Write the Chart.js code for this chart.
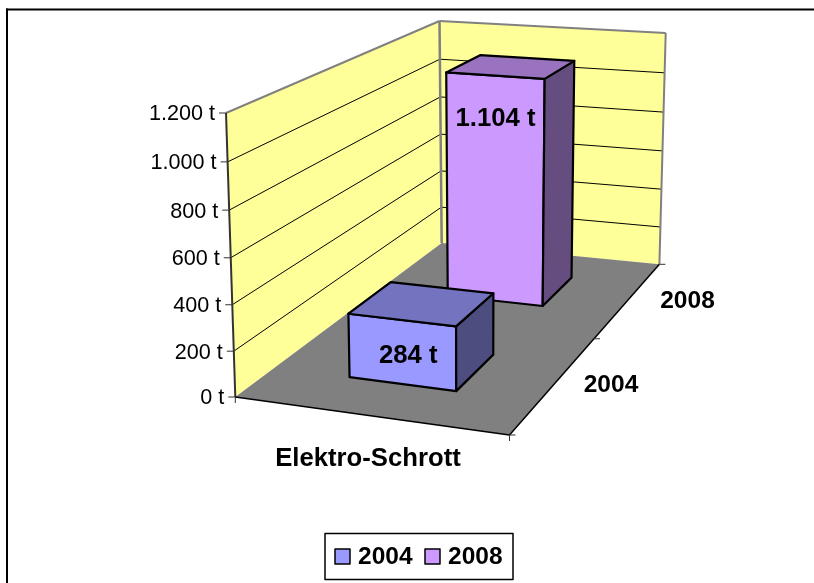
<!DOCTYPE html>
<html>
<head>
<meta charset="utf-8">
<title>Elektro-Schrott</title>
<script src="https://cdn.jsdelivr.net/npm/chart.js@4"></script>
<style>
  html, body { margin: 0; padding: 0; background: #fff; }
  canvas { display: block; }
</style>
</head>
<body>
<canvas id="chart" width="814" height="583"></canvas>
<script>
// Data
const categories = ['Elektro-Schrott'];
const seriesNames = ['2004', '2008'];
const values2004 = [284];
const values2008 = [1104];
const yTickLabels = ['0 t', '200 t', '400 t', '600 t', '800 t', '1.000 t', '1.200 t'];
const barLabels = ['284 t', '1.104 t'];

const FONT = '"Liberation Sans", Arial, sans-serif';
const wallColor = '#FFFF99';
const floorColor = '#808080';
const frontColors = ['#9999FF', '#CC99FF'];
const topColors = ['#7373BF', '#9973BF'];
const sideColors = ['#4D4D80', '#664D80'];

// corners of the 3d box on screen: box[u][depth][height]
const box = [
  [[{ x: 235.3, y: 397 }, { x: 226, y: 113 }], [{ x: 441.7, y: 243 }, { x: 439.5, y: 21 }]],
  [[{ x: 509.5, y: 435 }, { x: 511.5, y: 136 }], [{ x: 659.4, y: 264.3 }, { x: 665.7, y: 33 }]]
];
const topWeight = 0.962; // vertical perspective, top of the box is nearer
const seriesDepth = [[0.157, 0.354], [0.653, 0.85]];
const uShift = -0.0045;
const labelOffsets = [{ x: 6, y: 35.5 }, { x: 0, y: 43 }];

// perspective correct mapping of box coordinates to the screen
function project(u, d, h) {
  let sx = 0, sy = 0, sw = 0;
  [0, 1].forEach(i => [0, 1].forEach(j => {
    const ground = box[i][j][0], roof = box[i][j][1];
    const base = 1 / (ground.y - roof.y);
    [0, 1].forEach(k => {
      const l = (i ? u : 1 - u) * (j ? d : 1 - d) * (k ? h : 1 - h);
      const w = l * base * (k ? topWeight : 1);
      const p = box[i][j][k];
      sx += w * p.x;
      sy += w * p.y;
      sw += w;
    });
  }));
  return { x: sx / sw, y: sy / sw };
}

function poly(ctx, pts, fill, stroke, width) {
  ctx.beginPath();
  pts.forEach((p, i) => i ? ctx.lineTo(p.x, p.y) : ctx.moveTo(p.x, p.y));
  ctx.closePath();
  if (fill) { ctx.fillStyle = fill; ctx.fill(); }
  if (stroke) { ctx.strokeStyle = stroke; ctx.lineWidth = width; ctx.lineJoin = 'round'; ctx.stroke(); }
}

function line(ctx, a, b, color, width) {
  ctx.beginPath();
  ctx.moveTo(a.x, a.y);
  ctx.lineTo(b.x, b.y);
  ctx.strokeStyle = color;
  ctx.lineWidth = width;
  ctx.stroke();
}

function text(ctx, str, x, y, font, align) {
  ctx.font = font;
  ctx.fillStyle = '#000';
  ctx.textAlign = align || 'center';
  ctx.textBaseline = 'middle';
  ctx.fillText(str, x, y);
}

const box3d = {
  id: 'box3d',
  beforeDatasetsDraw(chart) {
    const ctx = chart.ctx;
    const area = chart.chartArea;
    const yScale = chart.scales.y;
    const toH = v => (area.bottom - yScale.getPixelForValue(v)) / (area.bottom - area.top);
    ctx.save();

    // outer chart border, only top and left are in the crop
    ctx.fillStyle = '#000';
    ctx.fillRect(6, 8.5, 808, 2);
    ctx.fillRect(6, 8.5, 2, 574.5);

    // walls
    poly(ctx, [project(0, 0, 0), project(0, 1, 0), project(0, 1, 1), project(0, 0, 1)], wallColor);
    poly(ctx, [project(0, 1, 0), project(1, 1, 0), project(1, 1, 1), project(0, 1, 1)], wallColor);

    // gridlines
    yScale.ticks.forEach(tick => {
      if (tick.value === 0 || tick.value === yScale.max) return;
      const h = toH(tick.value);
      line(ctx, project(0, 0, h), project(0, 1, h), '#000', 1);
      line(ctx, project(0, 1, h), project(1, 1, h), '#000', 1);
    });

    // floor
    poly(ctx, [project(0, 0, 0), project(1, 0, 0), project(1, 1, 0), project(0, 1, 0)], floorColor);

    // wall outlines
    line(ctx, project(0, 0, 1), project(0, 1, 1), '#808080', 2);
    line(ctx, project(0, 1, 1), project(1, 1, 1), '#808080', 2);
    line(ctx, project(0, 1, 1), project(0, 1, 0), '#808080', 2.5);
    line(ctx, project(1, 1, 1), project(1, 1, 0), '#808080', 2);

    // value axis
    line(ctx, project(0, 0, 1), project(0, 0, 0), '#333', 2);
    yScale.ticks.forEach(tick => {
      const p = project(0, 0, toH(tick.value));
      line(ctx, p, { x: p.x - 7, y: p.y }, '#333', 1);
      text(ctx, tick.label, p.x - 11, p.y + 1.5, '21.6px ' + FONT, 'right');
    });

    // floor edges and their ticks
    line(ctx, project(0, 0, 0), project(1, 0, 0), '#000', 1.5);
    line(ctx, project(1, 0, 0), project(1, 1, 0), '#000', 1.5);
    const fl = project(0, 0, 0);
    line(ctx, fl, { x: fl.x, y: fl.y + 6 }, '#333', 1);
    const fr = project(1, 0, 0);
    line(ctx, fr, { x: fr.x, y: fr.y + 6 }, '#333', 1);
    [0, 0.5, 1].forEach(d => {
      const p = project(1, d, 0);
      line(ctx, p, { x: p.x + 6, y: p.y }, '#333', 1);
    });

    // bars, the far one first
    const bold = 'bold 24.5px ' + FONT;
    const boldWide = 'bold 25.7px ' + FONT;
    for (let i = chart.data.datasets.length - 1; i >= 0; i--) {
      const bar = chart.getDatasetMeta(i).data[0];
      const u0 = (bar.x - bar.width / 2 - area.left) / (area.right - area.left) + uShift;
      const u1 = (bar.x + bar.width / 2 - area.left) / (area.right - area.left) + uShift;
      const [d0, d1] = seriesDepth[i];
      const h = toH(chart.data.datasets[i].data[0]);
      const front = [project(u0, d0, 0), project(u1, d0, 0), project(u1, d0, h), project(u0, d0, h)];
      const side = [project(u1, d0, 0), project(u1, d1, 0), project(u1, d1, h), project(u1, d0, h)];
      const roof = [project(u0, d0, h), project(u1, d0, h), project(u1, d1, h), project(u0, d1, h)];
      poly(ctx, front, frontColors[i], '#000', 2.2);
      poly(ctx, side, sideColors[i], '#000', 2.2);
      poly(ctx, roof, topColors[i], '#000', 2.2);
      const cx = (front[2].x + front[3].x) / 2;
      const cy = (front[2].y + front[3].y) / 2;
      text(ctx, barLabels[i], cx + labelOffsets[i].x, cy + labelOffsets[i].y, boldWide);
    }

    // axis labels
    text(ctx, categories[0], 368, 459, boldWide);
    text(ctx, seriesNames[0], 611, 385.5, bold);
    text(ctx, seriesNames[1], 687.5, 301.5, bold);

    // legend
    ctx.fillStyle = '#fff';
    ctx.fillRect(325, 533.5, 188, 46);
    ctx.strokeStyle = '#000';
    ctx.lineWidth = 1.5;
    ctx.strokeRect(325, 533.5, 188, 46);
    const legendX = [335, 425];
    chart.data.datasets.forEach((ds, i) => {
      ctx.fillStyle = frontColors[i];
      ctx.fillRect(legendX[i], 549, 15, 15);
      ctx.strokeStyle = '#000';
      ctx.lineWidth = 1.5;
      ctx.strokeRect(legendX[i], 549, 15, 15);
      text(ctx, ds.label, legendX[i] + 23, 557, bold, 'left');
    });

    ctx.restore();
    return false;
  }
};

new Chart(document.getElementById('chart'), {
  type: 'bar',
  data: {
    labels: categories,
    datasets: [
      { label: seriesNames[0], data: values2004, backgroundColor: frontColors[0] },
      { label: seriesNames[1], data: values2008, backgroundColor: frontColors[1] }
    ]
  },
  options: {
    responsive: false,
    animation: false,
    layout: { padding: { left: 226, top: 113, right: 304, bottom: 186 } },
    plugins: { legend: { display: false }, tooltip: { enabled: false } },
    datasets: { bar: { grouped: false, categoryPercentage: 1, barPercentage: 0.405 } },
    scales: {
      x: { display: false },
      y: {
        display: false,
        min: 0,
        max: 1200,
        ticks: { stepSize: 200, callback: (v, i) => yTickLabels[i] }
      }
    }
  },
  plugins: [box3d]
});
</script>
</body>
</html>
